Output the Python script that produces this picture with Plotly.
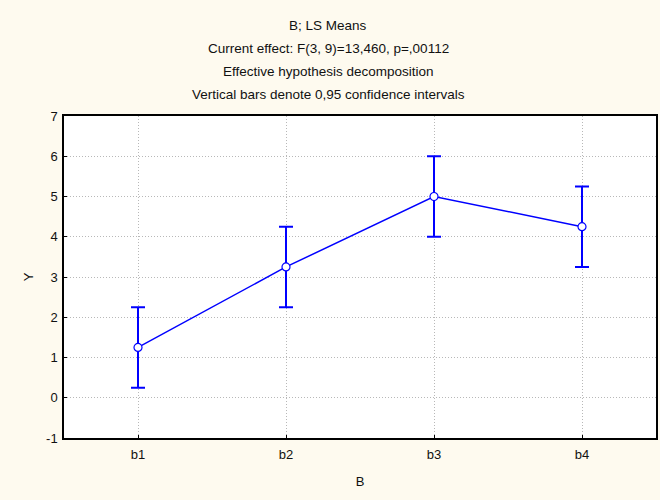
import plotly.graph_objects as go

categories = ["b1", "b2", "b3", "b4"]
means = [1.25, 3.25, 5.0, 4.25]
ci_half = [1.0, 1.0, 1.0, 1.0]
y_ticks = [-1, 0, 1, 2, 3, 4, 5, 6, 7]
y_tick_labels = ["-1", "0", "1", "2", "3", "4", "5", "6", "7"]

title_lines = [
    "B; LS Means",
    "Current effect: F(3, 9)=13,460, p=,00112",
    "Effective hypothesis decomposition",
    "Vertical bars denote 0,95 confidence intervals",
]

FONT = "Liberation Sans, Arial, sans-serif"
BLUE = "#0000FF"
BG = "#FEFAEF"
W, H, L, R, T, B = 660, 500, 64, 4, 116, 62
ph = H - T - B
pw = W - L - R

fig = go.Figure()
fig.add_trace(go.Scatter(
    x=list(range(len(categories))), y=means,
    mode="lines+markers",
    line=dict(color=BLUE, width=1.5),
    marker=dict(symbol="circle", size=8, color="white", line=dict(color=BLUE, width=1.2)),
    error_y=dict(type="data", array=ci_half, visible=True, color=BLUE, thickness=2, width=7),
    showlegend=False,
))

for i, t in enumerate(title_lines):
    py = 25 + 23 * i
    fig.add_annotation(text=t, x=(328 - L) / pw, xref="paper", xanchor="center",
                       y=(H - B - py) / ph, yref="paper", yanchor="middle", showarrow=False,
                       font=dict(family=FONT, size=13.5, color="#111"))

fig.update_layout(
    width=W, height=H,
    margin=dict(l=L, r=R, t=T, b=B),
    paper_bgcolor=BG,
    plot_bgcolor="white",
    font=dict(family=FONT, size=13, color="#111"),
    xaxis=dict(
        tickmode="array", tickvals=list(range(len(categories))), ticktext=categories,
        range=[-0.5, 3.5], showgrid=True, gridcolor="#b8b8b8", griddash="1px,2px", gridwidth=1,
        showline=True, linecolor="black", linewidth=1.5, mirror=True,
        ticks="inside", ticklen=3, tickcolor="black", zeroline=False, automargin=False,
        ticklabelstandoff=4,
        title=dict(text="B", standoff=16, font=dict(size=13)),
    ),
    yaxis=dict(
        tickmode="array", tickvals=y_ticks, ticktext=y_tick_labels, range=[-1, 7],
        showgrid=True, gridcolor="#b8b8b8", griddash="1px,2px", gridwidth=1,
        showline=True, linecolor="black", linewidth=1.5, mirror=True,
        ticks="inside", ticklen=3, tickcolor="black", zeroline=False, automargin=False,
        ticklabelstandoff=2,
        title=dict(text="Y", standoff=10, font=dict(size=13)),
    ),
)

fig.write_html(
    "out.html",
    config={"displayModeBar": False},
    post_script=f"document.body.style.margin='0';document.body.style.background='{BG}';",
)
